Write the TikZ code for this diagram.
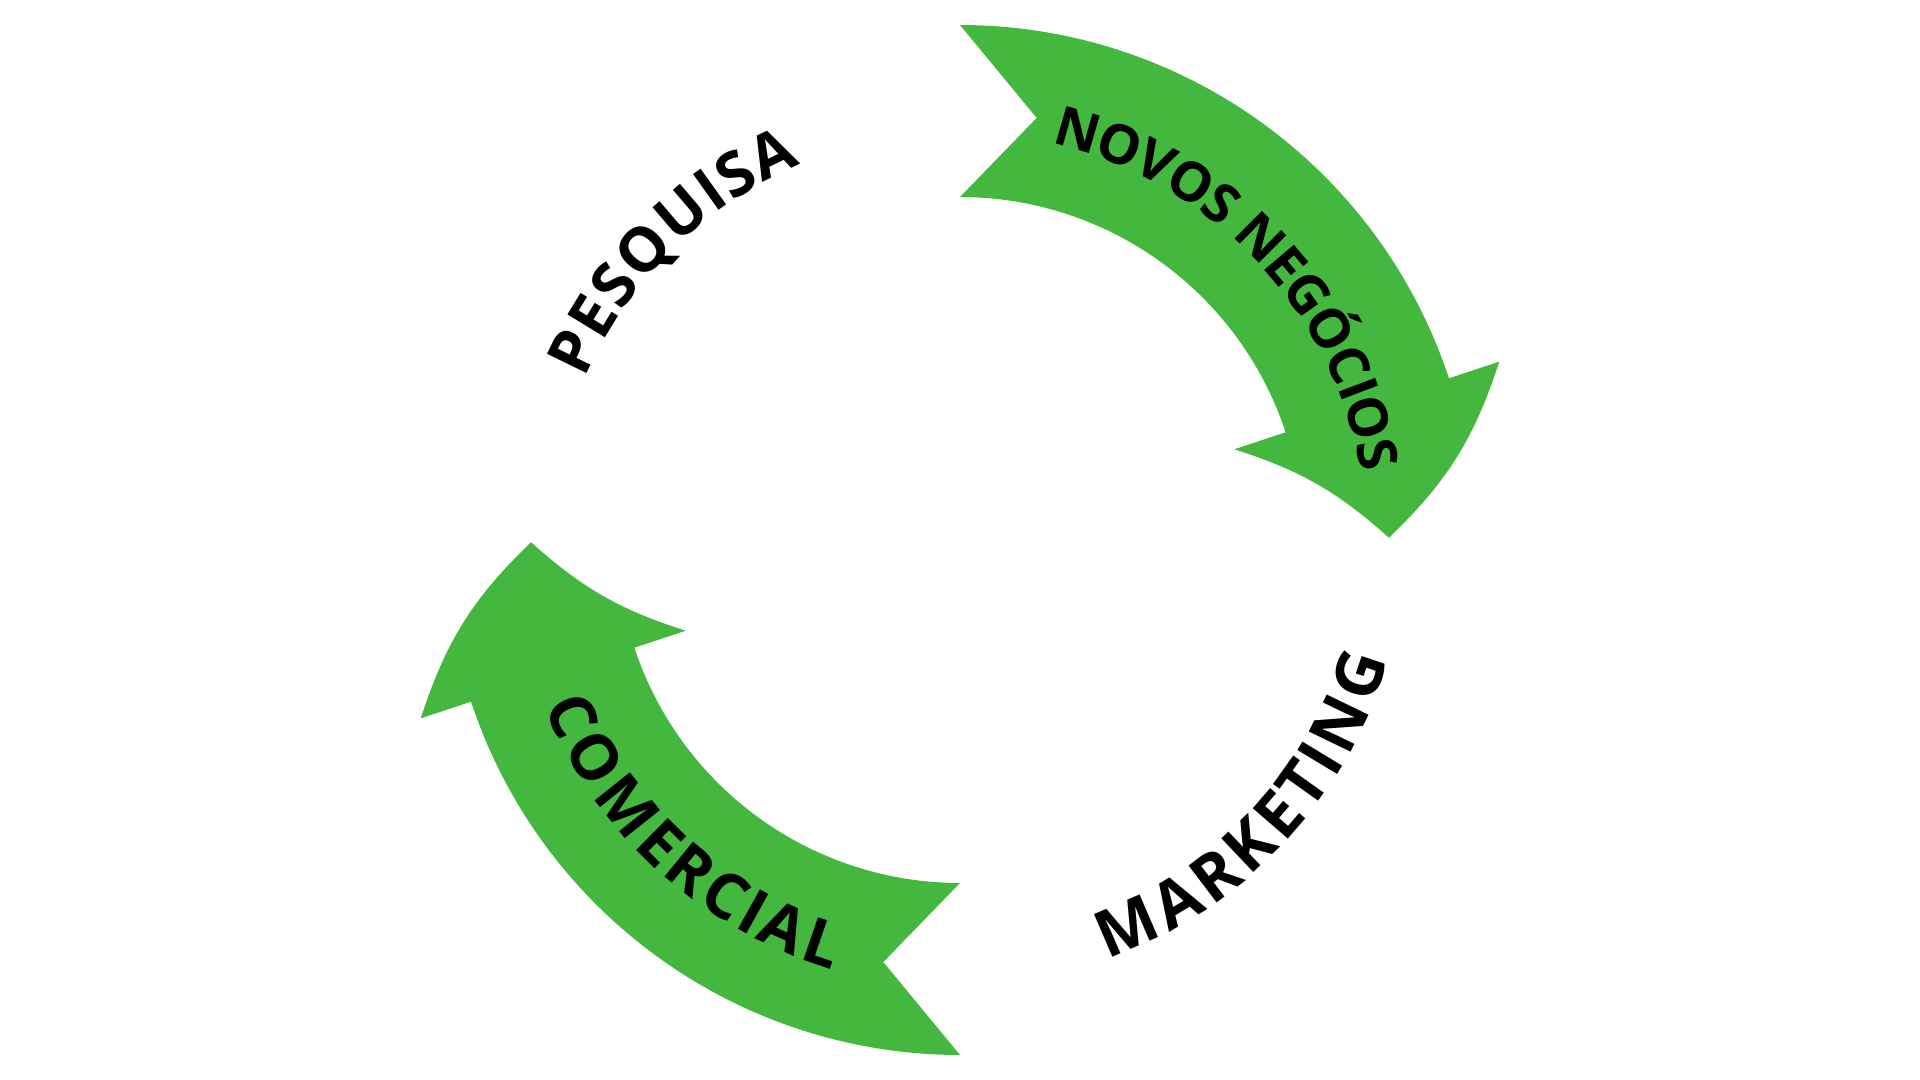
\documentclass[tikz,border=0pt]{standalone}
\usepackage{fontspec}
\newfontfamily\cyclefont{Open Sans}
\usetikzlibrary{decorations.text}
\definecolor{cyclegreen}{RGB}{68,184,62}

\begin{document}
\begin{tikzpicture}[x=1cm,y=1cm,
  cyclearrow/.style={fill=cyclegreen},
  arclabel/.style 2 args={decorate,decoration={text effects along path,text={#2},
    text effects/.cd,fit text to path,
    characters={text along path,font=\cyclefont\bfseries\fontsize{#1}{#1}\selectfont}}}]
\useasboundingbox (-9.6,-5.4) rectangle (9.6,5.4);
\fill[cyclearrow] (90:5.15) arc[start angle=90,end angle=18.3,radius=5.15] -- (18.3:5.68) to[bend left=14] (0.3:4.29)
  to[bend right=12] (18.3:2.89) -- (18.3:3.43) arc[start angle=18.3,end angle=90,radius=3.43] -- (79.7:4.29) -- cycle;
\fill[cyclearrow] (270:5.15) arc[start angle=270,end angle=198.3,radius=5.15] -- (198.3:5.68) to[bend left=14] (180.3:4.29)
  to[bend right=12] (198.3:2.89) -- (198.3:3.43) arc[start angle=198.3,end angle=270,radius=3.43] -- (259.7:4.29) -- cycle;
\path[arclabel={17.5}{PESQUISA}] (156.7:4.08) arc[start angle=156.7,end angle=112.9,radius=4.08];
\path[arclabel={15.5}{NOVOS NEGÓCIOS}] (77:4.07) arc[start angle=77,end angle=9.5,radius=4.07];
\path[arclabel={18.5}{MARKETING}] (-70.6:4.44) arc[start angle=-70.6,end angle=-15.6,radius=4.44];
\path[arclabel={18}{COMERCIAL}] (201.8:4.48) arc[start angle=201.8,end angle=253.4,radius=4.48];
\end{tikzpicture}
\end{document}
